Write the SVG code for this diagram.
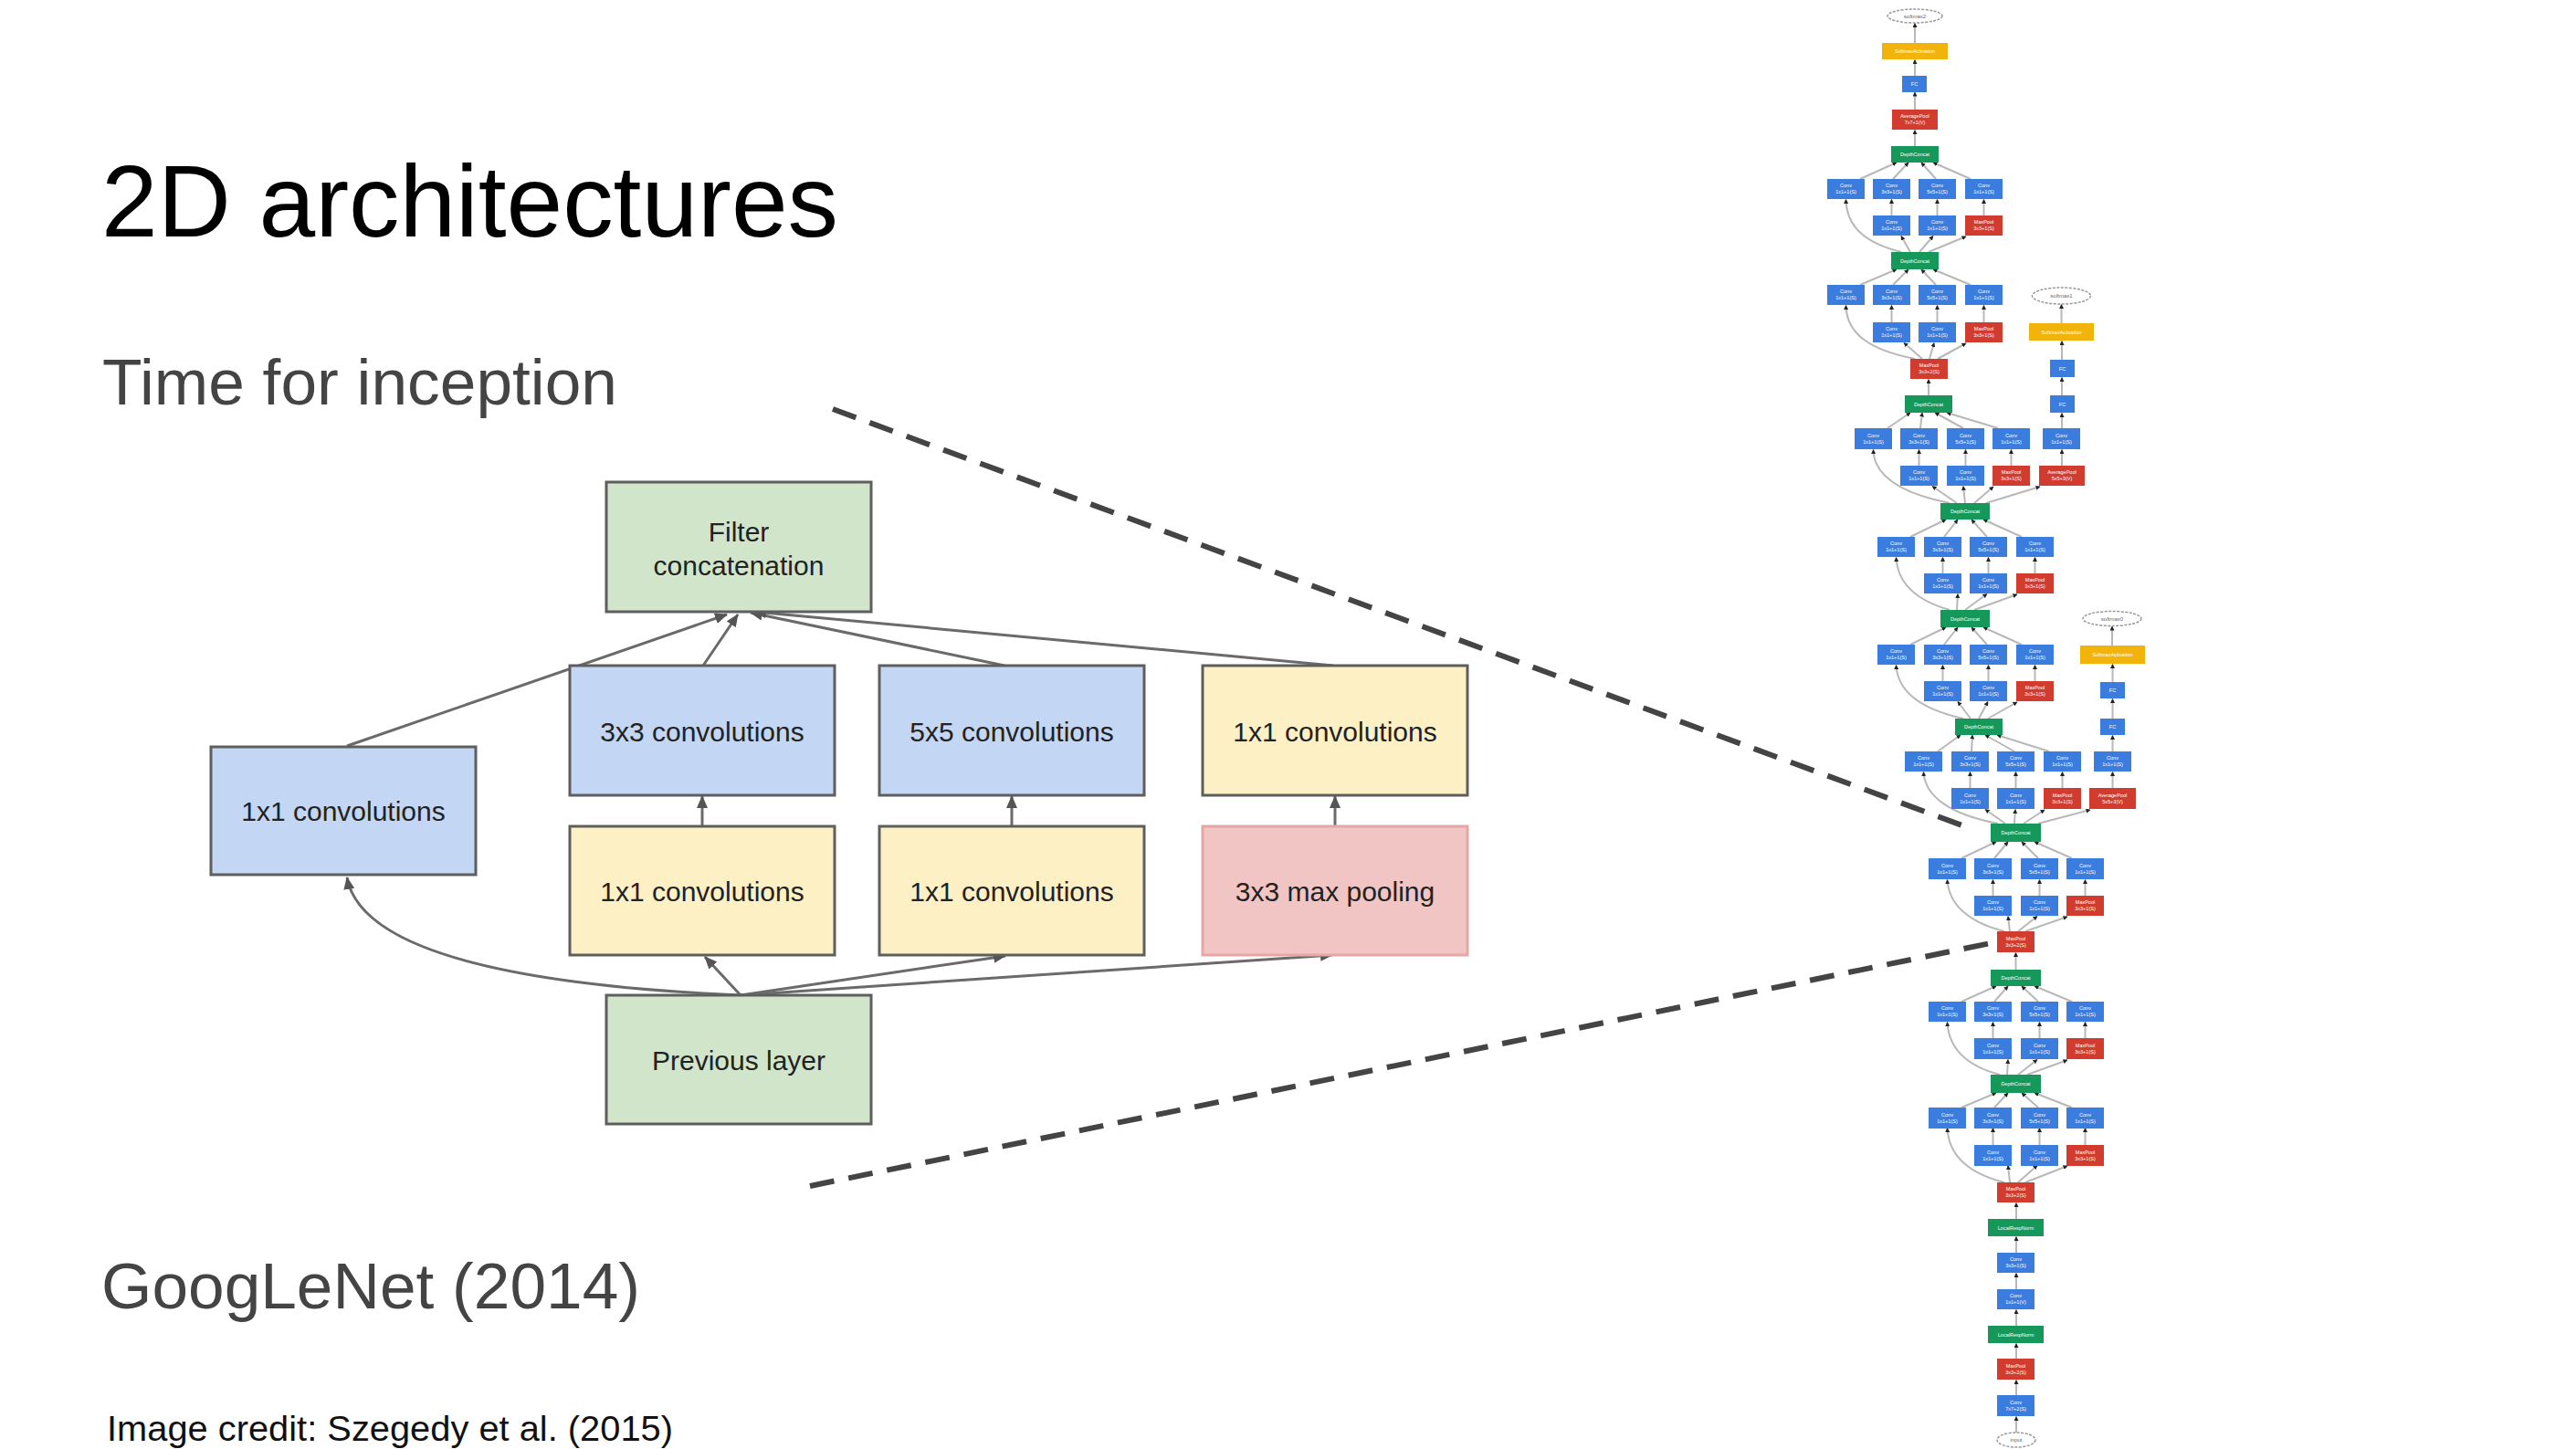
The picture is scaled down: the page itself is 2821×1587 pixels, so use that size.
<svg xmlns="http://www.w3.org/2000/svg" width="2821" height="1587" viewBox="0 0 2821 1587">
<defs>
<style>
.bx{stroke:#5e5e5e;stroke-width:3}
.gr{fill:#d1e5ca}
.bl{fill:#c3d6f3}
.ye{fill:#fdf0c5}
.rd{fill:#f1c5c4;stroke:#e4a7a5}
.lb{font-family:"Liberation Sans",Arial,sans-serif;font-size:30px;fill:#222;text-anchor:middle}
.cn{fill:none;stroke:#6a6a6a;stroke-width:3}
.dash{fill:none;stroke:#444;stroke-width:6;stroke-dasharray:27 16}
.ng{fill:#15985a}
.nb{fill:#3b7ddf}
.nr{fill:#d23c2e}
.ny{fill:#f2b40a}
.el{fill:#fff;stroke:#999;stroke-width:1.5;stroke-dasharray:3 1.5}
.t{font-family:"Liberation Sans",Arial,sans-serif;font-size:5.5px;fill:#fff;text-anchor:middle}
.te{font-family:"Liberation Sans",Arial,sans-serif;font-size:6px;fill:#666;text-anchor:middle}
.ne{fill:none;stroke:#b8b8b8;stroke-width:2}
</style>
<marker id="ah" markerUnits="userSpaceOnUse" markerWidth="14" markerHeight="12" refX="13" refY="6" orient="auto"><path d="M0,0 L14,6 L0,12 z" fill="#555"/></marker>
<marker id="sa" markerUnits="userSpaceOnUse" markerWidth="5" markerHeight="5" refX="4.5" refY="2.5" orient="auto"><path d="M0,0 L5,2.5 L0,5 z" fill="#222"/></marker>
</defs>
<rect x="0" y="0" width="2821" height="1587" fill="#fff"/>

<text x="111" y="259" font-family="Liberation Sans, Arial, sans-serif" font-size="111" fill="#000" textLength="807" lengthAdjust="spacingAndGlyphs">2D architectures</text>
<text x="112" y="443" font-family="Liberation Sans, Arial, sans-serif" font-size="71" fill="#444" textLength="564" lengthAdjust="spacingAndGlyphs">Time for inception</text>
<text x="111" y="1433" font-family="Liberation Sans, Arial, sans-serif" font-size="71" fill="#444" textLength="590" lengthAdjust="spacingAndGlyphs">GoogLeNet (2014)</text>
<text x="117" y="1578" font-family="Liberation Sans, Arial, sans-serif" font-size="38" fill="#111" textLength="620" lengthAdjust="spacingAndGlyphs">Image credit: Szegedy et al. (2015)</text>

<g id="zoom-lines">
<path class="dash" d="M912,448 L2157,907"/>
<path class="dash" d="M887,1299 L2180,1033"/>
</g>

<g id="inception-connectors">
<path class="cn" d="M380,817 L796,673" marker-end="url(#ah)"/>
<path class="cn" d="M770,729 L808,673" marker-end="url(#ah)"/>
<path class="cn" d="M1100,729 L822,671" marker-end="url(#ah)"/>
<path class="cn" d="M1460,729 L826,670" marker-end="url(#ah)"/>
<path class="cn" d="M769,905 L769,872" marker-end="url(#ah)"/>
<path class="cn" d="M1108,905 L1108,872" marker-end="url(#ah)"/>
<path class="cn" d="M1462,905 L1462,872" marker-end="url(#ah)"/>
<path class="cn" d="M811,1090 Q400,1072 380,961" marker-end="url(#ah)"/>
<path class="cn" d="M811,1090 L772,1048" marker-end="url(#ah)"/>
<path class="cn" d="M811,1090 L1101,1047" marker-end="url(#ah)"/>
<path class="cn" d="M811,1090 L1459,1046" marker-end="url(#ah)"/>
</g>

<g id="filter-concat"><rect class="bx gr" x="664" y="528" width="290" height="142"/><text class="lb" x="809" y="593">Filter</text><text class="lb" x="809" y="630">concatenation</text></g>
<g id="conv1x1-a"><rect class="bx bl" x="231" y="818" width="290" height="140"/><text class="lb" x="376" y="899">1x1 convolutions</text></g>
<g id="conv3x3"><rect class="bx bl" x="624" y="729" width="290" height="142"/><text class="lb" x="769" y="812">3x3 convolutions</text></g>
<g id="conv5x5"><rect class="bx bl" x="963" y="729" width="290" height="142"/><text class="lb" x="1108" y="812">5x5 convolutions</text></g>
<g id="conv1x1-d"><rect class="bx ye" x="1317" y="729" width="290" height="142"/><text class="lb" x="1462" y="812">1x1 convolutions</text></g>
<g id="conv1x1-b"><rect class="bx ye" x="624" y="905" width="290" height="141"/><text class="lb" x="769" y="987">1x1 convolutions</text></g>
<g id="conv1x1-c"><rect class="bx ye" x="963" y="905" width="290" height="141"/><text class="lb" x="1108" y="987">1x1 convolutions</text></g>
<g id="maxpool"><rect class="bx rd" x="1317" y="905" width="290" height="141"/><text class="lb" x="1462" y="987">3x3 max pooling</text></g>
<g id="previous-layer"><rect class="bx gr" x="664" y="1090" width="290" height="141"/><text class="lb" x="809" y="1172">Previous layer</text></g>

<g id="googlenet-edges">
<path class="ne" d="M2097,160 V142.5" marker-end="url(#sa)"/>
<path class="ne" d="M2097,120 V101" marker-end="url(#sa)"/>
<path class="ne" d="M2097,83 V65.5" marker-end="url(#sa)"/>
<path class="ne" d="M2097,47 V25.5" marker-end="url(#sa)"/>
<path class="ne" d="M2037,196 L2077,178" marker-end="url(#sa)"/>
<path class="ne" d="M2073,196 L2090,178" marker-end="url(#sa)"/>
<path class="ne" d="M2120,196 L2104,178" marker-end="url(#sa)"/>
<path class="ne" d="M2158,196 L2117,178" marker-end="url(#sa)"/>
<path class="ne" d="M2071.5,236 V218.5" marker-end="url(#sa)"/>
<path class="ne" d="M2121.5,236 V218.5" marker-end="url(#sa)"/>
<path class="ne" d="M2172.5,236 V218.5" marker-end="url(#sa)"/>
<path class="ne" d="M2082,276 C2042,266 2022,248 2021.5,218.5" marker-end="url(#sa)"/>
<path class="ne" d="M2092,276 L2082,258.5" marker-end="url(#sa)"/>
<path class="ne" d="M2102,276 L2117,258.5" marker-end="url(#sa)"/>
<path class="ne" d="M2112,276 L2153,259" marker-end="url(#sa)"/>
<path class="ne" d="M2037,312 L2077,295" marker-end="url(#sa)"/>
<path class="ne" d="M2073,312 L2090,295" marker-end="url(#sa)"/>
<path class="ne" d="M2120,312 L2104,295" marker-end="url(#sa)"/>
<path class="ne" d="M2158,312 L2117,295" marker-end="url(#sa)"/>
<path class="ne" d="M2071.5,353 V334.5" marker-end="url(#sa)"/>
<path class="ne" d="M2121.5,353 V334.5" marker-end="url(#sa)"/>
<path class="ne" d="M2172.5,353 V334.5" marker-end="url(#sa)"/>
<path class="ne" d="M2097,393 C2045,383 2022,364 2021.5,334.5" marker-end="url(#sa)"/>
<path class="ne" d="M2105,393 L2085,375.5" marker-end="url(#sa)"/>
<path class="ne" d="M2113,393 L2118,375.5" marker-end="url(#sa)"/>
<path class="ne" d="M2122,393 L2153,376" marker-end="url(#sa)"/>
<path class="ne" d="M2112,433 V415.5" marker-end="url(#sa)"/>
<path class="ne" d="M2067,469 L2092,452" marker-end="url(#sa)"/>
<path class="ne" d="M2103,469 L2105,452" marker-end="url(#sa)"/>
<path class="ne" d="M2150,469 L2119,452" marker-end="url(#sa)"/>
<path class="ne" d="M2188,469 L2132,452" marker-end="url(#sa)"/>
<path class="ne" d="M2101.5,510 V492.5" marker-end="url(#sa)"/>
<path class="ne" d="M2152.5,510 V492.5" marker-end="url(#sa)"/>
<path class="ne" d="M2202.5,510 V492.5" marker-end="url(#sa)"/>
<path class="ne" d="M2135,551 C2080,540 2052,520 2051.5,492.5" marker-end="url(#sa)"/>
<path class="ne" d="M2143,551 L2116,532.5" marker-end="url(#sa)"/>
<path class="ne" d="M2152,551 L2150,532.5" marker-end="url(#sa)"/>
<path class="ne" d="M2162,551 L2183,533" marker-end="url(#sa)"/>
<path class="ne" d="M2175,551 L2234,533" marker-end="url(#sa)"/>
<path class="ne" d="M2258,510 V492.5" marker-end="url(#sa)"/>
<path class="ne" d="M2258,469 V452.5" marker-end="url(#sa)"/>
<path class="ne" d="M2258,433 V413.5" marker-end="url(#sa)"/>
<path class="ne" d="M2258,394 V373.5" marker-end="url(#sa)"/>
<path class="ne" d="M2257.5,354 V333.5" marker-end="url(#sa)"/>
<path class="ne" d="M2092,588 L2131,569" marker-end="url(#sa)"/>
<path class="ne" d="M2129,588 L2144,569" marker-end="url(#sa)"/>
<path class="ne" d="M2176,588 L2159,569" marker-end="url(#sa)"/>
<path class="ne" d="M2214,588 L2172,569" marker-end="url(#sa)"/>
<path class="ne" d="M2127.5,628 V610.5" marker-end="url(#sa)"/>
<path class="ne" d="M2177.5,628 V610.5" marker-end="url(#sa)"/>
<path class="ne" d="M2228.5,628 V610.5" marker-end="url(#sa)"/>
<path class="ne" d="M2135,668 C2100,658 2078,640 2076.5,610.5" marker-end="url(#sa)"/>
<path class="ne" d="M2143,668 L2144,650.5" marker-end="url(#sa)"/>
<path class="ne" d="M2152,668 L2176,650.5" marker-end="url(#sa)"/>
<path class="ne" d="M2162,668 L2209,651" marker-end="url(#sa)"/>
<path class="ne" d="M2092,706 L2131,687" marker-end="url(#sa)"/>
<path class="ne" d="M2129,706 L2144,687" marker-end="url(#sa)"/>
<path class="ne" d="M2176,706 L2159,687" marker-end="url(#sa)"/>
<path class="ne" d="M2214,706 L2172,687" marker-end="url(#sa)"/>
<path class="ne" d="M2127.5,746 V728.5" marker-end="url(#sa)"/>
<path class="ne" d="M2177.5,746 V728.5" marker-end="url(#sa)"/>
<path class="ne" d="M2228.5,746 V728.5" marker-end="url(#sa)"/>
<path class="ne" d="M2150,787 C2105,777 2078,758 2076.5,728.5" marker-end="url(#sa)"/>
<path class="ne" d="M2158,787 L2144,768.5" marker-end="url(#sa)"/>
<path class="ne" d="M2167,787 L2177,768.5" marker-end="url(#sa)"/>
<path class="ne" d="M2177,787 L2209,769" marker-end="url(#sa)"/>
<path class="ne" d="M2122,823 L2147,805" marker-end="url(#sa)"/>
<path class="ne" d="M2159,823 L2160,805" marker-end="url(#sa)"/>
<path class="ne" d="M2206,823 L2174,805" marker-end="url(#sa)"/>
<path class="ne" d="M2244,823 L2187,805" marker-end="url(#sa)"/>
<path class="ne" d="M2157.5,863 V845.5" marker-end="url(#sa)"/>
<path class="ne" d="M2207.5,863 V845.5" marker-end="url(#sa)"/>
<path class="ne" d="M2258.5,863 V845.5" marker-end="url(#sa)"/>
<path class="ne" d="M2188,902 C2135,892 2108,872 2106.5,845.5" marker-end="url(#sa)"/>
<path class="ne" d="M2196,902 L2174,886.5" marker-end="url(#sa)"/>
<path class="ne" d="M2206,902 L2207,886.5" marker-end="url(#sa)"/>
<path class="ne" d="M2216,902 L2239,887" marker-end="url(#sa)"/>
<path class="ne" d="M2232,902 L2289,887" marker-end="url(#sa)"/>
<path class="ne" d="M2313.5,863 V845.5" marker-end="url(#sa)"/>
<path class="ne" d="M2313.5,823 V805.5" marker-end="url(#sa)"/>
<path class="ne" d="M2313.5,787 V765.5" marker-end="url(#sa)"/>
<path class="ne" d="M2313.5,747 V727.5" marker-end="url(#sa)"/>
<path class="ne" d="M2313,707 V686" marker-end="url(#sa)"/>
<path class="ne" d="M2148,940 L2186,922" marker-end="url(#sa)"/>
<path class="ne" d="M2184,940 L2199,922" marker-end="url(#sa)"/>
<path class="ne" d="M2232,940 L2214,922" marker-end="url(#sa)"/>
<path class="ne" d="M2269,940 L2228,922" marker-end="url(#sa)"/>
<path class="ne" d="M2182.5,981 V963.5" marker-end="url(#sa)"/>
<path class="ne" d="M2233.5,981 V963.5" marker-end="url(#sa)"/>
<path class="ne" d="M2283.5,981 V963.5" marker-end="url(#sa)"/>
<path class="ne" d="M2195,1020 C2155,1010 2134,990 2132.5,963.5" marker-end="url(#sa)"/>
<path class="ne" d="M2201,1020 L2199,1003.5" marker-end="url(#sa)"/>
<path class="ne" d="M2210,1020 L2231,1003.5" marker-end="url(#sa)"/>
<path class="ne" d="M2218,1020 L2264,1004" marker-end="url(#sa)"/>
<path class="ne" d="M2207.5,1062 V1043.5" marker-end="url(#sa)"/>
<path class="ne" d="M2148,1097 L2186,1080" marker-end="url(#sa)"/>
<path class="ne" d="M2184,1097 L2199,1080" marker-end="url(#sa)"/>
<path class="ne" d="M2232,1097 L2214,1080" marker-end="url(#sa)"/>
<path class="ne" d="M2269,1097 L2228,1080" marker-end="url(#sa)"/>
<path class="ne" d="M2182.5,1137 V1119.5" marker-end="url(#sa)"/>
<path class="ne" d="M2233.5,1137 V1119.5" marker-end="url(#sa)"/>
<path class="ne" d="M2283.5,1137 V1119.5" marker-end="url(#sa)"/>
<path class="ne" d="M2190,1177 C2152,1167 2134,1148 2132.5,1119.5" marker-end="url(#sa)"/>
<path class="ne" d="M2198,1177 L2199,1160.5" marker-end="url(#sa)"/>
<path class="ne" d="M2210,1177 L2231,1160.5" marker-end="url(#sa)"/>
<path class="ne" d="M2220,1177 L2264,1161" marker-end="url(#sa)"/>
<path class="ne" d="M2148,1213 L2186,1197" marker-end="url(#sa)"/>
<path class="ne" d="M2184,1213 L2199,1197" marker-end="url(#sa)"/>
<path class="ne" d="M2232,1213 L2214,1197" marker-end="url(#sa)"/>
<path class="ne" d="M2269,1213 L2228,1197" marker-end="url(#sa)"/>
<path class="ne" d="M2182.5,1254 V1235.5" marker-end="url(#sa)"/>
<path class="ne" d="M2233.5,1254 V1235.5" marker-end="url(#sa)"/>
<path class="ne" d="M2283.5,1254 V1235.5" marker-end="url(#sa)"/>
<path class="ne" d="M2195,1295 C2155,1285 2134,1265 2132.5,1235.5" marker-end="url(#sa)"/>
<path class="ne" d="M2201,1295 L2199,1276.5" marker-end="url(#sa)"/>
<path class="ne" d="M2210,1295 L2231,1276.5" marker-end="url(#sa)"/>
<path class="ne" d="M2218,1295 L2264,1277" marker-end="url(#sa)"/>
<path class="ne" d="M2208,1335 V1317.5" marker-end="url(#sa)"/>
<path class="ne" d="M2208,1372 V1354.5" marker-end="url(#sa)"/>
<path class="ne" d="M2208,1412 V1394.5" marker-end="url(#sa)"/>
<path class="ne" d="M2208,1452 V1434.5" marker-end="url(#sa)"/>
<path class="ne" d="M2208,1488 V1471.5" marker-end="url(#sa)"/>
<path class="ne" d="M2208,1528 V1511.5" marker-end="url(#sa)"/>
<path class="ne" d="M2208,1569 V1551.5" marker-end="url(#sa)"/>
</g>

<g id="googlenet-nodes">
<g id="n-softmax2"><ellipse class="el" cx="2097" cy="17.5" rx="30" ry="7.5"/><text class="te" x="2097" y="19.5">softmax2</text></g>
<g id="n-softact2"><rect class="ny" x="2061" y="47" width="72" height="18"/><text class="t" x="2097" y="58">SoftmaxActivation</text></g>
<g id="n-fc2"><rect class="nb" x="2083" y="83" width="27" height="18"/><text class="t" x="2096.5" y="94">FC</text></g>
<g id="n-avg2"><rect class="nr" x="2072" y="120" width="50" height="22"/><text class="t" x="2097" y="129">AveragePool<tspan x="2097" dy="7">7x7+1(V)</tspan></text></g>

<g id="a-concat"><rect class="ng" x="2071" y="160" width="52" height="18"/><text class="t" x="2097" y="171">DepthConcat</text></g>
<g id="a-c1"><rect class="nb" x="2001" y="196" width="41" height="22"/><text class="t" x="2021.5" y="205">Conv<tspan x="2021.5" dy="7">1x1+1(S)</tspan></text></g>
<g id="a-c2"><rect class="nb" x="2051" y="196" width="41" height="22"/><text class="t" x="2071.5" y="205">Conv<tspan x="2071.5" dy="7">3x3+1(S)</tspan></text></g>
<g id="a-c3"><rect class="nb" x="2101" y="196" width="41" height="22"/><text class="t" x="2121.5" y="205">Conv<tspan x="2121.5" dy="7">5x5+1(S)</tspan></text></g>
<g id="a-c4"><rect class="nb" x="2152" y="196" width="41" height="22"/><text class="t" x="2172.5" y="205">Conv<tspan x="2172.5" dy="7">1x1+1(S)</tspan></text></g>
<g id="a-r2"><rect class="nb" x="2051" y="236" width="41" height="22"/><text class="t" x="2071.5" y="245">Conv<tspan x="2071.5" dy="7">1x1+1(S)</tspan></text></g>
<g id="a-r3"><rect class="nb" x="2101" y="236" width="41" height="22"/><text class="t" x="2121.5" y="245">Conv<tspan x="2121.5" dy="7">1x1+1(S)</tspan></text></g>
<g id="a-r4"><rect class="nr" x="2152" y="236" width="41" height="22"/><text class="t" x="2172.5" y="245">MaxPool<tspan x="2172.5" dy="7">3x3+1(S)</tspan></text></g>

<g id="b-concat"><rect class="ng" x="2071" y="276" width="52" height="19"/><text class="t" x="2097" y="287.5">DepthConcat</text></g>
<g id="b-c1"><rect class="nb" x="2001" y="312" width="41" height="22"/><text class="t" x="2021.5" y="321">Conv<tspan x="2021.5" dy="7">1x1+1(S)</tspan></text></g>
<g id="b-c2"><rect class="nb" x="2051" y="312" width="41" height="22"/><text class="t" x="2071.5" y="321">Conv<tspan x="2071.5" dy="7">3x3+1(S)</tspan></text></g>
<g id="b-c3"><rect class="nb" x="2101" y="312" width="41" height="22"/><text class="t" x="2121.5" y="321">Conv<tspan x="2121.5" dy="7">5x5+1(S)</tspan></text></g>
<g id="b-c4"><rect class="nb" x="2152" y="312" width="41" height="22"/><text class="t" x="2172.5" y="321">Conv<tspan x="2172.5" dy="7">1x1+1(S)</tspan></text></g>
<g id="b-r2"><rect class="nb" x="2051" y="353" width="41" height="22"/><text class="t" x="2071.5" y="362">Conv<tspan x="2071.5" dy="7">1x1+1(S)</tspan></text></g>
<g id="b-r3"><rect class="nb" x="2101" y="353" width="41" height="22"/><text class="t" x="2121.5" y="362">Conv<tspan x="2121.5" dy="7">1x1+1(S)</tspan></text></g>
<g id="b-r4"><rect class="nr" x="2152" y="353" width="41" height="22"/><text class="t" x="2172.5" y="362">MaxPool<tspan x="2172.5" dy="7">3x3+1(S)</tspan></text></g>
<g id="pool-b"><rect class="nr" x="2092" y="393" width="41" height="22"/><text class="t" x="2112.5" y="402">MaxPool<tspan x="2112.5" dy="7">3x3+2(S)</tspan></text></g>

<g id="c-concat"><rect class="ng" x="2086" y="433" width="52" height="19"/><text class="t" x="2112" y="444.5">DepthConcat</text></g>
<g id="c-c1"><rect class="nb" x="2031" y="469" width="41" height="23"/><text class="t" x="2051.5" y="478.5">Conv<tspan x="2051.5" dy="7">1x1+1(S)</tspan></text></g>
<g id="c-c2"><rect class="nb" x="2081" y="469" width="41" height="23"/><text class="t" x="2101.5" y="478.5">Conv<tspan x="2101.5" dy="7">3x3+1(S)</tspan></text></g>
<g id="c-c3"><rect class="nb" x="2132" y="469" width="41" height="23"/><text class="t" x="2152.5" y="478.5">Conv<tspan x="2152.5" dy="7">5x5+1(S)</tspan></text></g>
<g id="c-c4"><rect class="nb" x="2182" y="469" width="41" height="23"/><text class="t" x="2202.5" y="478.5">Conv<tspan x="2202.5" dy="7">1x1+1(S)</tspan></text></g>
<g id="c-r2"><rect class="nb" x="2081" y="510" width="41" height="22"/><text class="t" x="2101.5" y="519">Conv<tspan x="2101.5" dy="7">1x1+1(S)</tspan></text></g>
<g id="c-r3"><rect class="nb" x="2132" y="510" width="41" height="22"/><text class="t" x="2152.5" y="519">Conv<tspan x="2152.5" dy="7">1x1+1(S)</tspan></text></g>
<g id="c-r4"><rect class="nr" x="2182" y="510" width="41" height="22"/><text class="t" x="2202.5" y="519">MaxPool<tspan x="2202.5" dy="7">3x3+1(S)</tspan></text></g>

<g id="n-softmax1"><ellipse class="el" cx="2257.5" cy="324" rx="32" ry="9"/><text class="te" x="2257.5" y="326">softmax1</text></g>
<g id="n-softact1"><rect class="ny" x="2222" y="354" width="71" height="19"/><text class="t" x="2257.5" y="365.5">SoftmaxActivation</text></g>
<g id="n-fc1b"><rect class="nb" x="2245" y="394" width="27" height="19"/><text class="t" x="2258.5" y="405.5">FC</text></g>
<g id="n-fc1a"><rect class="nb" x="2245" y="433" width="27" height="19"/><text class="t" x="2258.5" y="444.5">FC</text></g>
<g id="n-conv1"><rect class="nb" x="2237" y="469" width="41" height="23"/><text class="t" x="2257.5" y="478.5">Conv<tspan x="2257.5" dy="7">1x1+1(S)</tspan></text></g>
<g id="n-avg1"><rect class="nr" x="2233" y="510" width="50" height="22"/><text class="t" x="2258" y="519">AveragePool<tspan x="2258" dy="7">5x5+3(V)</tspan></text></g>

<g id="d-concat"><rect class="ng" x="2125" y="551" width="54" height="18"/><text class="t" x="2152" y="562">DepthConcat</text></g>
<g id="d-c1"><rect class="nb" x="2056" y="588" width="41" height="22"/><text class="t" x="2076.5" y="597">Conv<tspan x="2076.5" dy="7">1x1+1(S)</tspan></text></g>
<g id="d-c2"><rect class="nb" x="2107" y="588" width="41" height="22"/><text class="t" x="2127.5" y="597">Conv<tspan x="2127.5" dy="7">3x3+1(S)</tspan></text></g>
<g id="d-c3"><rect class="nb" x="2157" y="588" width="41" height="22"/><text class="t" x="2177.5" y="597">Conv<tspan x="2177.5" dy="7">5x5+1(S)</tspan></text></g>
<g id="d-c4"><rect class="nb" x="2208" y="588" width="41" height="22"/><text class="t" x="2228.5" y="597">Conv<tspan x="2228.5" dy="7">1x1+1(S)</tspan></text></g>
<g id="d-r2"><rect class="nb" x="2107" y="628" width="41" height="22"/><text class="t" x="2127.5" y="637">Conv<tspan x="2127.5" dy="7">1x1+1(S)</tspan></text></g>
<g id="d-r3"><rect class="nb" x="2157" y="628" width="41" height="22"/><text class="t" x="2177.5" y="637">Conv<tspan x="2177.5" dy="7">1x1+1(S)</tspan></text></g>
<g id="d-r4"><rect class="nr" x="2208" y="628" width="41" height="22"/><text class="t" x="2228.5" y="637">MaxPool<tspan x="2228.5" dy="7">3x3+1(S)</tspan></text></g>

<g id="e-concat"><rect class="ng" x="2125" y="668" width="54" height="19"/><text class="t" x="2152" y="679.5">DepthConcat</text></g>
<g id="e-c1"><rect class="nb" x="2056" y="706" width="41" height="22"/><text class="t" x="2076.5" y="715">Conv<tspan x="2076.5" dy="7">1x1+1(S)</tspan></text></g>
<g id="e-c2"><rect class="nb" x="2107" y="706" width="41" height="22"/><text class="t" x="2127.5" y="715">Conv<tspan x="2127.5" dy="7">3x3+1(S)</tspan></text></g>
<g id="e-c3"><rect class="nb" x="2157" y="706" width="41" height="22"/><text class="t" x="2177.5" y="715">Conv<tspan x="2177.5" dy="7">5x5+1(S)</tspan></text></g>
<g id="e-c4"><rect class="nb" x="2208" y="706" width="41" height="22"/><text class="t" x="2228.5" y="715">Conv<tspan x="2228.5" dy="7">1x1+1(S)</tspan></text></g>
<g id="e-r2"><rect class="nb" x="2107" y="746" width="41" height="22"/><text class="t" x="2127.5" y="755">Conv<tspan x="2127.5" dy="7">1x1+1(S)</tspan></text></g>
<g id="e-r3"><rect class="nb" x="2157" y="746" width="41" height="22"/><text class="t" x="2177.5" y="755">Conv<tspan x="2177.5" dy="7">1x1+1(S)</tspan></text></g>
<g id="e-r4"><rect class="nr" x="2208" y="746" width="41" height="22"/><text class="t" x="2228.5" y="755">MaxPool<tspan x="2228.5" dy="7">3x3+1(S)</tspan></text></g>

<g id="n-softmax0"><ellipse class="el" cx="2313" cy="677.5" rx="32" ry="8"/><text class="te" x="2313" y="679.5">softmax0</text></g>
<g id="n-softact0"><rect class="ny" x="2278" y="707" width="71" height="20"/><text class="t" x="2313.5" y="719">SoftmaxActivation</text></g>
<g id="n-fc0b"><rect class="nb" x="2300" y="747" width="27" height="18"/><text class="t" x="2313.5" y="758">FC</text></g>
<g id="n-fc0a"><rect class="nb" x="2300" y="787" width="27" height="18"/><text class="t" x="2313.5" y="798">FC</text></g>
<g id="n-conv0"><rect class="nb" x="2293" y="823" width="41" height="22"/><text class="t" x="2313.5" y="832">Conv<tspan x="2313.5" dy="7">1x1+1(S)</tspan></text></g>
<g id="n-avg0"><rect class="nr" x="2288" y="863" width="51" height="23"/><text class="t" x="2313.5" y="872.5">AveragePool<tspan x="2313.5" dy="7">5x5+3(V)</tspan></text></g>

<g id="f-concat"><rect class="ng" x="2141" y="787" width="52" height="18"/><text class="t" x="2167" y="798">DepthConcat</text></g>
<g id="f-c1"><rect class="nb" x="2086" y="823" width="41" height="22"/><text class="t" x="2106.5" y="832">Conv<tspan x="2106.5" dy="7">1x1+1(S)</tspan></text></g>
<g id="f-c2"><rect class="nb" x="2137" y="823" width="41" height="22"/><text class="t" x="2157.5" y="832">Conv<tspan x="2157.5" dy="7">3x3+1(S)</tspan></text></g>
<g id="f-c3"><rect class="nb" x="2187" y="823" width="41" height="22"/><text class="t" x="2207.5" y="832">Conv<tspan x="2207.5" dy="7">5x5+1(S)</tspan></text></g>
<g id="f-c4"><rect class="nb" x="2238" y="823" width="41" height="22"/><text class="t" x="2258.5" y="832">Conv<tspan x="2258.5" dy="7">1x1+1(S)</tspan></text></g>
<g id="f-r2"><rect class="nb" x="2137" y="863" width="41" height="23"/><text class="t" x="2157.5" y="872.5">Conv<tspan x="2157.5" dy="7">1x1+1(S)</tspan></text></g>
<g id="f-r3"><rect class="nb" x="2187" y="863" width="41" height="23"/><text class="t" x="2207.5" y="872.5">Conv<tspan x="2207.5" dy="7">1x1+1(S)</tspan></text></g>
<g id="f-r4"><rect class="nr" x="2238" y="863" width="41" height="23"/><text class="t" x="2258.5" y="872.5">MaxPool<tspan x="2258.5" dy="7">3x3+1(S)</tspan></text></g>

<g id="g-concat"><rect class="ng" x="2180" y="902" width="55" height="20"/><text class="t" x="2207.5" y="914">DepthConcat</text></g>
<g id="g-c1"><rect class="nb" x="2112" y="940" width="41" height="23"/><text class="t" x="2132.5" y="949.5">Conv<tspan x="2132.5" dy="7">1x1+1(S)</tspan></text></g>
<g id="g-c2"><rect class="nb" x="2162" y="940" width="41" height="23"/><text class="t" x="2182.5" y="949.5">Conv<tspan x="2182.5" dy="7">3x3+1(S)</tspan></text></g>
<g id="g-c3"><rect class="nb" x="2213" y="940" width="41" height="23"/><text class="t" x="2233.5" y="949.5">Conv<tspan x="2233.5" dy="7">5x5+1(S)</tspan></text></g>
<g id="g-c4"><rect class="nb" x="2263" y="940" width="41" height="23"/><text class="t" x="2283.5" y="949.5">Conv<tspan x="2283.5" dy="7">1x1+1(S)</tspan></text></g>
<g id="g-r2"><rect class="nb" x="2162" y="981" width="41" height="22"/><text class="t" x="2182.5" y="990">Conv<tspan x="2182.5" dy="7">1x1+1(S)</tspan></text></g>
<g id="g-r3"><rect class="nb" x="2213" y="981" width="41" height="22"/><text class="t" x="2233.5" y="990">Conv<tspan x="2233.5" dy="7">1x1+1(S)</tspan></text></g>
<g id="g-r4"><rect class="nr" x="2263" y="981" width="41" height="22"/><text class="t" x="2283.5" y="990">MaxPool<tspan x="2283.5" dy="7">3x3+1(S)</tspan></text></g>
<g id="pool-g"><rect class="nr" x="2187" y="1020" width="41" height="23"/><text class="t" x="2207.5" y="1029.5">MaxPool<tspan x="2207.5" dy="7">3x3+2(S)</tspan></text></g>

<g id="h-concat"><rect class="ng" x="2180" y="1062" width="55" height="18"/><text class="t" x="2207.5" y="1073">DepthConcat</text></g>
<g id="h-c1"><rect class="nb" x="2112" y="1097" width="41" height="22"/><text class="t" x="2132.5" y="1106">Conv<tspan x="2132.5" dy="7">1x1+1(S)</tspan></text></g>
<g id="h-c2"><rect class="nb" x="2162" y="1097" width="41" height="22"/><text class="t" x="2182.5" y="1106">Conv<tspan x="2182.5" dy="7">3x3+1(S)</tspan></text></g>
<g id="h-c3"><rect class="nb" x="2213" y="1097" width="41" height="22"/><text class="t" x="2233.5" y="1106">Conv<tspan x="2233.5" dy="7">5x5+1(S)</tspan></text></g>
<g id="h-c4"><rect class="nb" x="2263" y="1097" width="41" height="22"/><text class="t" x="2283.5" y="1106">Conv<tspan x="2283.5" dy="7">1x1+1(S)</tspan></text></g>
<g id="h-r2"><rect class="nb" x="2162" y="1137" width="41" height="23"/><text class="t" x="2182.5" y="1146.5">Conv<tspan x="2182.5" dy="7">1x1+1(S)</tspan></text></g>
<g id="h-r3"><rect class="nb" x="2213" y="1137" width="41" height="23"/><text class="t" x="2233.5" y="1146.5">Conv<tspan x="2233.5" dy="7">1x1+1(S)</tspan></text></g>
<g id="h-r4"><rect class="nr" x="2263" y="1137" width="41" height="23"/><text class="t" x="2283.5" y="1146.5">MaxPool<tspan x="2283.5" dy="7">3x3+1(S)</tspan></text></g>

<g id="i-concat"><rect class="ng" x="2180" y="1177" width="55" height="20"/><text class="t" x="2207.5" y="1189">DepthConcat</text></g>
<g id="i-c1"><rect class="nb" x="2112" y="1213" width="41" height="23"/><text class="t" x="2132.5" y="1222.5">Conv<tspan x="2132.5" dy="7">1x1+1(S)</tspan></text></g>
<g id="i-c2"><rect class="nb" x="2162" y="1213" width="41" height="23"/><text class="t" x="2182.5" y="1222.5">Conv<tspan x="2182.5" dy="7">3x3+1(S)</tspan></text></g>
<g id="i-c3"><rect class="nb" x="2213" y="1213" width="41" height="23"/><text class="t" x="2233.5" y="1222.5">Conv<tspan x="2233.5" dy="7">5x5+1(S)</tspan></text></g>
<g id="i-c4"><rect class="nb" x="2263" y="1213" width="41" height="23"/><text class="t" x="2283.5" y="1222.5">Conv<tspan x="2283.5" dy="7">1x1+1(S)</tspan></text></g>
<g id="i-r2"><rect class="nb" x="2162" y="1254" width="41" height="23"/><text class="t" x="2182.5" y="1263.5">Conv<tspan x="2182.5" dy="7">1x1+1(S)</tspan></text></g>
<g id="i-r3"><rect class="nb" x="2213" y="1254" width="41" height="23"/><text class="t" x="2233.5" y="1263.5">Conv<tspan x="2233.5" dy="7">1x1+1(S)</tspan></text></g>
<g id="i-r4"><rect class="nr" x="2263" y="1254" width="41" height="23"/><text class="t" x="2283.5" y="1263.5">MaxPool<tspan x="2283.5" dy="7">3x3+1(S)</tspan></text></g>
<g id="pool-i"><rect class="nr" x="2187" y="1295" width="41" height="22"/><text class="t" x="2207.5" y="1304">MaxPool<tspan x="2207.5" dy="7">3x3+2(S)</tspan></text></g>

<g id="lrn-2"><rect class="ng" x="2177" y="1335" width="61" height="19"/><text class="t" x="2207.5" y="1346.5">LocalRespNorm</text></g>
<g id="conv-s3"><rect class="nb" x="2187" y="1372" width="41" height="22"/><text class="t" x="2207.5" y="1381">Conv<tspan x="2207.5" dy="7">3x3+1(S)</tspan></text></g>
<g id="conv-s2"><rect class="nb" x="2187" y="1412" width="41" height="22"/><text class="t" x="2207.5" y="1421">Conv<tspan x="2207.5" dy="7">1x1+1(V)</tspan></text></g>
<g id="lrn-1"><rect class="ng" x="2177" y="1452" width="61" height="19"/><text class="t" x="2207.5" y="1463.5">LocalRespNorm</text></g>
<g id="pool-s1"><rect class="nr" x="2187" y="1488" width="41" height="23"/><text class="t" x="2207.5" y="1497.5">MaxPool<tspan x="2207.5" dy="7">3x3+2(S)</tspan></text></g>
<g id="conv-s1"><rect class="nb" x="2187" y="1528" width="41" height="23"/><text class="t" x="2207.5" y="1537.5">Conv<tspan x="2207.5" dy="7">7x7+2(S)</tspan></text></g>
<g id="n-input"><ellipse class="el" cx="2208" cy="1577" rx="21" ry="8"/><text class="te" x="2208" y="1579">input</text></g>
</g>
</svg>
